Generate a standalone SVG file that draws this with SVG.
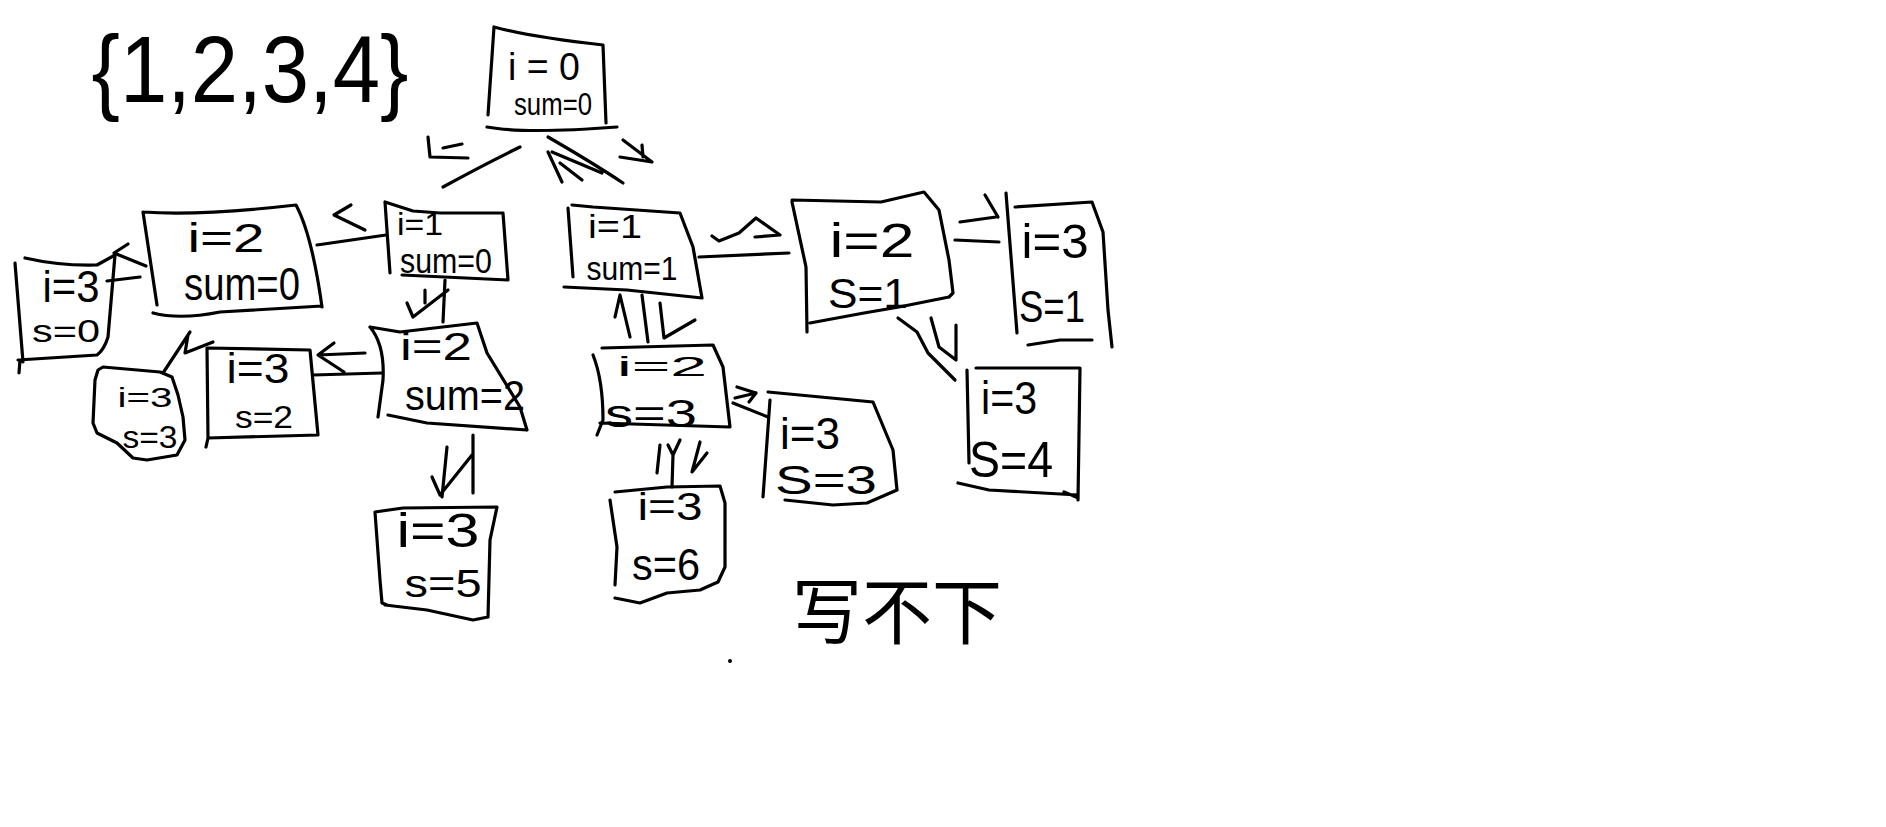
<svg xmlns="http://www.w3.org/2000/svg" width="1886" height="827" viewBox="0 0 1886 827">
  <style>
    .ink { fill: none; stroke: #000; stroke-width: 3.2; stroke-linecap: round; stroke-linejoin: round; }
    .t { font-family: "Liberation Sans", Arial, sans-serif; fill: #000; text-anchor: middle; }
    .cjk { font-family: "Liberation Sans", "Noto Sans CJK SC", sans-serif; fill: #000; }
  </style>
  <rect width="1886" height="827" fill="#fff"/>

  <!-- the set being enumerated -->
  <g id="set">
    <text class="t" x="250" y="102" font-size="94" textLength="317" lengthAdjust="spacingAndGlyphs">{1,2,3,4}</text>
  </g>

  <!-- search tree nodes -->
  <g id="node-root">
    <path class="ink" d="M494,27 L488,115 M494,27 Q531,37 603,45 L606,123 M487,127 Q524,134 617,127"/>
    <text class="t" x="544" y="80" font-size="38" textLength="72" lengthAdjust="spacingAndGlyphs">i = 0</text>
    <text class="t" x="553" y="115" font-size="31" textLength="78" lengthAdjust="spacingAndGlyphs">sum=0</text>
  </g>

  <g id="node-i1-s0">
    <path class="ink" d="M385,202 L390,273 M385,202 L413,211 L440,213 L503,213 L508,280 M402,275 L508,280"/>
    <text class="t" x="420" y="235" font-size="32" textLength="46" lengthAdjust="spacingAndGlyphs">i=1</text>
    <text class="t" x="446" y="273" font-size="35" textLength="92" lengthAdjust="spacingAndGlyphs">sum=0</text>
  </g>

  <g id="node-i2-s0">
    <path class="ink" d="M143,212 Q200,216 296,205 Q312,235 322,307 M143,212 L157,305 M153,313 Q180,320 220,312 L322,306"/>
    <text class="t" x="226" y="252" font-size="40" textLength="77" lengthAdjust="spacingAndGlyphs">i=2</text>
    <text class="t" x="242" y="300" font-size="46" textLength="116" lengthAdjust="spacingAndGlyphs">sum=0</text>
  </g>

  <g id="node-i3-s0">
    <path class="ink" d="M15,263 L23,362 M25,258 Q60,266 97,265 L115,255 L108,337 Q104,350 97,355 L18,360 M20,360 L19,373"/>
    <text class="t" x="71" y="302" font-size="44" textLength="57" lengthAdjust="spacingAndGlyphs">i=3</text>
    <text class="t" x="66" y="342" font-size="31" textLength="68" lengthAdjust="spacingAndGlyphs">s=0</text>
  </g>

  <g id="node-i3-s3a">
    <path class="ink" d="M98,370 L103,367 L160,372 L172,377 L178,395 L183,417 L185,440 L177,455 L147,460 L133,458 L117,443 L97,433 L93,423 L95,380 Z"/>
    <text class="t" x="145" y="407" font-size="27" textLength="55" lengthAdjust="spacingAndGlyphs">i=3</text>
    <text class="t" x="150" y="448" font-size="32" textLength="55" lengthAdjust="spacingAndGlyphs">s=3</text>
  </g>

  <g id="node-i3-s2">
    <path class="ink" d="M207,348 L208,438 L206,447 M207,348 L310,350 L318,435 M208,438 L318,435"/>
    <text class="t" x="258" y="383" font-size="42" textLength="63" lengthAdjust="spacingAndGlyphs">i=3</text>
    <text class="t" x="264" y="428" font-size="32" textLength="58" lengthAdjust="spacingAndGlyphs">s=2</text>
  </g>

  <g id="node-i2-s2">
    <path class="ink" d="M370,327 Q385,345 383,380 L378,417 M370,327 L400,332 L477,323 L487,353 L520,407 L527,430 M388,415 L427,423 L527,430"/>
    <text class="t" x="436" y="360" font-size="38" textLength="72" lengthAdjust="spacingAndGlyphs">i=2</text>
    <text class="t" x="465" y="410" font-size="42" textLength="120" lengthAdjust="spacingAndGlyphs">sum=2</text>
  </g>

  <g id="node-i3-s5">
    <path class="ink" d="M375,512 L380,580 L382,603 L387,605 M375,512 L403,508 L497,507 L490,540 L488,617 M385,605 L427,610 L473,620 L488,617"/>
    <text class="t" x="438" y="547" font-size="48" textLength="83" lengthAdjust="spacingAndGlyphs">i=3</text>
    <text class="t" x="443" y="597" font-size="38" textLength="77" lengthAdjust="spacingAndGlyphs">s=5</text>
  </g>

  <g id="node-i1-s1">
    <path class="ink" d="M568,208 L573,277 M572,205 L593,207 L680,213 L693,247 L702,298 M564,287 L627,290 L702,298"/>
    <text class="t" x="615" y="238" font-size="34" textLength="54" lengthAdjust="spacingAndGlyphs">i=1</text>
    <text class="t" x="632" y="280" font-size="33" textLength="91" lengthAdjust="spacingAndGlyphs">sum=1</text>
  </g>

  <g id="node-i2-s3">
    <path class="ink" d="M593,355 Q603,380 603,420 L597,435 M602,348 L713,345 L723,367 L730,427 M600,423 L730,427"/>
    <text class="t" x="662" y="376" font-size="27" textLength="90" lengthAdjust="spacingAndGlyphs">i=2</text>
    <text class="t" x="651" y="427" font-size="38" textLength="92" lengthAdjust="spacingAndGlyphs">s=3</text>
  </g>

  <g id="node-i3-s6">
    <path class="ink" d="M610,500 L617,547 L615,585 M615,492 L667,487 L720,486 L725,503 L725,567 L718,582 M615,598 L640,603 L667,593 L700,590 L718,582"/>
    <text class="t" x="670" y="520" font-size="38" textLength="65" lengthAdjust="spacingAndGlyphs">i=3</text>
    <text class="t" x="666" y="580" font-size="44" textLength="68" lengthAdjust="spacingAndGlyphs">s=6</text>
  </g>

  <g id="node-i3-s3b">
    <path class="ink" d="M770,400 L763,497 M768,392 L873,402 L893,450 L897,490 L890,493 M785,500 L833,505 L867,503 L897,490"/>
    <text class="t" x="810" y="449" font-size="44" textLength="60" lengthAdjust="spacingAndGlyphs">i=3</text>
    <text class="t" x="826" y="494" font-size="40" textLength="102" lengthAdjust="spacingAndGlyphs">S=3</text>
  </g>

  <g id="node-i2-s1">
    <path class="ink" d="M792,202 L806,267 L807,332 M792,200 L881,202 L924,192 L939,210 L949,260 L953,293 L949,297 M810,323 L864,313 L899,307 L949,297"/>
    <text class="t" x="872" y="257" font-size="48" textLength="85" lengthAdjust="spacingAndGlyphs">i=2</text>
    <text class="t" x="868" y="308" font-size="42" textLength="80" lengthAdjust="spacingAndGlyphs">S=1</text>
  </g>

  <g id="node-i3-s1">
    <path class="ink" d="M1006,193 L1017,333 M1015,207 L1092,202 L1103,232 L1108,310 L1112,347 M1028,345 L1060,340 L1092,340"/>
    <text class="t" x="1055" y="258" font-size="48" textLength="67" lengthAdjust="spacingAndGlyphs">i=3</text>
    <text class="t" x="1052" y="322" font-size="44" textLength="66" lengthAdjust="spacingAndGlyphs">S=1</text>
  </g>

  <g id="node-i3-s4">
    <path class="ink" d="M967,370 L969,463 M976,368 L1080,368 L1078,500 M958,483 L989,490 L1078,495 M1064,492 L1076,497"/>
    <text class="t" x="1009" y="414" font-size="46" textLength="56" lengthAdjust="spacingAndGlyphs">i=3</text>
    <text class="t" x="1011" y="477" font-size="50" textLength="84" lengthAdjust="spacingAndGlyphs">S=4</text>
  </g>

  <!-- branches between states -->
  <g id="connectors" class="ink">
    <path d="M428,137 L430,157 L468,158 M443,148 L462,144"/>
    <path d="M443,187 Q483,165 520,147"/>
    <path d="M548,137 Q593,163 623,183 M552,152 L602,173 M548,152 L562,182 M560,163 L582,180"/>
    <path d="M623,140 L652,162 M620,157 L652,162 M642,145 L643,157"/>

    <path d="M317,245 L386,235 M351,205 L334,215 L365,230"/>
    <path d="M445,280 L443,322 M425,290 L425,303 M407,303 L413,317 L448,290"/>
    <path d="M128,244 L114,253 L146,266 M107,281 L140,277"/>
    <path d="M190,332 L163,373 M188,335 L185,353 L213,342"/>
    <path d="M313,375 L382,373 M334,343 L318,355 L344,372 M318,355 L365,353"/>
    <path d="M473,435 L473,493 M447,447 L442,497 M432,477 L440,495 L472,455"/>

    <path d="M615,317 L620,295 L630,337 M642,295 L648,342 M660,303 L664,338 L695,320"/>
    <path d="M660,445 L657,473 M668,445 L673,455 L680,440 M673,455 L672,487 M700,442 L692,472 L707,453"/>
    <path d="M733,403 L768,417 M737,387 L756,393 L749,402 M735,398 L756,393"/>
    <path d="M699,257 L789,253 M712,236 L719,241 L739,233 L756,218 L780,235 L755,237"/>
    <path d="M955,240 L999,242 M960,222 L996,217 M985,195 L998,217"/>
    <path d="M898,318 L917,332 L928,353 L955,380 M931,318 L939,347 L956,360 L956,325"/>
  </g>

  <!-- note at the bottom -->
  <g id="note">
    <text class="cjk" x="792" y="638" font-size="72" textLength="210" lengthAdjust="spacingAndGlyphs">写不下</text>
    <circle cx="730" cy="661" r="2" fill="#000"/>
  </g>
</svg>
